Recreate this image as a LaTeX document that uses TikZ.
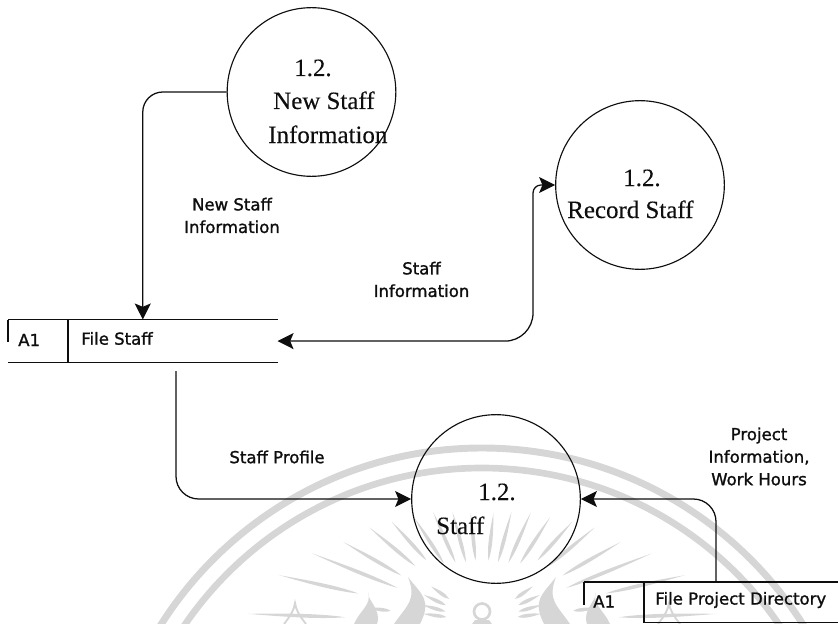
\documentclass[tikz,border=0pt]{standalone}
\usepackage{fontspec}
\setmainfont{Liberation Serif}[BoldFont={Liberation Serif},BoldFeatures={FakeBold=0.25}]
\setsansfont{DejaVu Sans}[BoldFont={DejaVu Sans},BoldFeatures={FakeBold=1.3}]
\usetikzlibrary{arrows.meta,calc}
\definecolor{wm}{HTML}{D6D6D6}
\definecolor{ink}{HTML}{0E0E0E}
\tikzset{
  x=0.75pt,y=-0.75pt,
  procnode/.style={circle,draw=ink,line width=0.85pt,minimum size=126.5pt,inner sep=0pt},
  storenode/.style={minimum width=201.75pt,minimum height=32pt,inner sep=0pt,anchor=north west},
  titletext/.style={font=\fontsize{18.7pt}{23pt}\selectfont\rmfamily\bfseries,text=ink,anchor=base west,inner sep=0pt},
  labeltext/.style={font=\fontsize{12.4pt}{16.9pt}\selectfont\sffamily\bfseries,text=ink,align=center,inner sep=0pt},
  storetext/.style={font=\fontsize{12.4pt}{13pt}\selectfont\sffamily\bfseries,text=ink,anchor=west,inner sep=0pt},
  flow/.style={draw=ink,line width=0.95pt},
  flowtip/.style={flow,-{Stealth[length=12pt,width=12pt,inset=2.5pt]}},
  flowboth/.style={flow,{Stealth[length=12pt,width=12pt,inset=2.5pt]}-{Stealth[length=12pt,width=12pt,inset=2.5pt]}},
  storeline/.style={draw=ink,line width=0.95pt},
}
\newcommand{\wmray}[3]{\fill[wm,shift={(482,622)},rotate=#1] (#2,0) .. controls ({0.7*#2+0.3*#3},3.4) and ({0.3*#2+0.7*#3},1.2) .. (#3,0) .. controls ({0.3*#2+0.7*#3},-1.2) and ({0.7*#2+0.3*#3},-3.4) .. cycle;}
\begin{document}
\begin{tikzpicture}
\useasboundingbox (0,0) rectangle (838,624);
% watermark
\begin{scope}
\clip (0,0) rectangle (838,624);
\draw[wm,line width=5.2pt] (482,828) circle[radius=380];
\draw[wm,line width=5pt] (482,828) circle[radius=360];
\foreach \s in {1,-1}{
\begin{scope}[shift={(482,622)},xscale=\s,shift={(-482,-622)}]
\foreach \o/\ra/\rb in {6/62/110,15/62/114,24/65/120,33/70/125,42/83/135,50/87/147,60/93/160,68/91/183,77/127/208,
   55/40/62,65/40/64,74/38/62,82/36/60}{
  \pgfmathsetmacro{\an}{90+\o}
  \wmray{\an}{\ra}{\rb}
}
\wmray{178}{137}{235}
\wmray{173}{92}{115}
\fill[wm] (408,577) .. controls (422,595) and (432,600) .. (420,624) -- (394,624) .. controls (407,605) and (417,600) .. cycle;
\fill[wm] (368,592) .. controls (367,600) and (382,610) .. (377,624) -- (354,624) .. controls (360,610) and (372,605) .. cycle;
\draw[wm,line width=1.4pt] (284,624) .. controls (291,615) and (294,610) .. (295,603) .. controls (296,610) and (299,615) .. (306,624);
\end{scope}
}
\draw[wm,line width=2pt] (482,611.5) circle[radius=8];
\fill[wm] (475,620) -- (489,620) -- (492,624) -- (472,624) -- cycle;
\end{scope}
% process circles
\node[procnode] (newinfo) at (311.5,92) {};
\node[procnode] (record) at (640,185) {};
\node[procnode] (staff) at (496,499) {};
\node[titletext] (t1a) at (294,76) {1.2.};
\node[titletext] (t1b) at (273,109) {New Staff};
\node[titletext] (t1c) at (268,143) {Information};
\node[titletext] (t2a) at (623,186) {1.2.};
\node[titletext] (t2b) at (567,218) {Record Staff};
\node[titletext] (t3a) at (478,500) {1.2.};
\node[titletext] (t3b) at (436,534) {Staff};
% stores
\node[storenode] (fstaff) at (8,319.5) {};
\node[minimum width=190.5pt,minimum height=30pt,inner sep=0pt,anchor=north west] (fproj) at (584,582) {};
\draw[storeline] (fstaff.north west) -- (fstaff.north east);
\draw[storeline] (fstaff.south west) -- (fstaff.south east);
\draw[storeline] (fstaff.north west) -- ++(0,22);
\coordinate (d1) at (68,319.5);
\draw[storeline] (d1) -- (d1 |- fstaff.south);
\draw[storeline] (fproj.north west) -- (fproj.north east);
\draw[storeline] (fproj.north west) -- ++(0,23);
\coordinate (d2) at (644,582);
\draw[storeline] (d2) -- (d2 |- fproj.south);
\draw[storeline] (d2 |- fproj.south) -- (fproj.south east);
\node[storetext] (a1a) at (18,340) {A1};
\node[storetext] (fsl) at (81,338.5) {File Staff};
\node[storetext] (a1b) at (593,601.5) {A1};
\node[storetext] (fpl) at (655,600) {File Project Directory};
% connectors
\draw[flowtip,rounded corners=15pt] (newinfo.west) -| (fstaff.north);
\coordinate (b1) at (533,260);
\draw[flowboth] (record.west) [rounded corners=6pt] -- (record.west -| b1) [rounded corners=21pt] -- (fstaff.east -| b1) -- (fstaff.east);
\coordinate (s3) at (176,371);
\draw[flowtip,rounded corners=17pt] (s3) |- (staff.west);
\coordinate (s4) at (716,582);
\draw[flowtip,rounded corners=17pt] (s4) |- (staff.east);
% labels
\node[labeltext] (l1) at (232,215.5) {New Staff\\Information};
\node[labeltext] (l2) at (421.5,279.5) {Staff\\Information};
\node[labeltext] (l3) at (277,457) {Staff Profile};
\node[labeltext] (l4) at (759,456.5) {Project\\Information,\\Work Hours};
\end{tikzpicture}
\end{document}
